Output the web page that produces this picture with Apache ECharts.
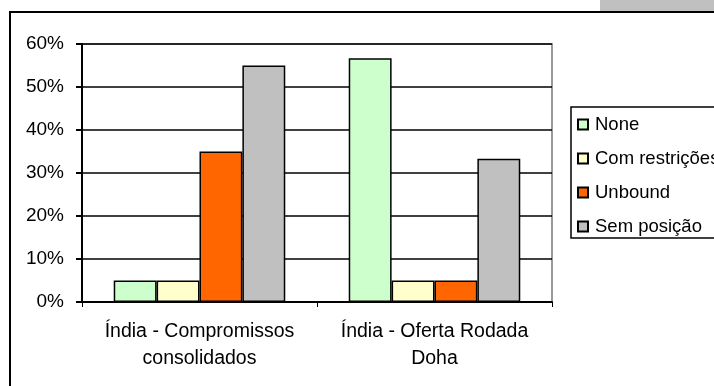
<!DOCTYPE html>
<html>
<head>
<meta charset="utf-8">
<script src="https://cdn.jsdelivr.net/npm/echarts@6/dist/echarts.min.js"></script>
<style>
  html, body { margin: 0; padding: 0; background: #fff; }
  #chart { width: 714px; height: 386px; }
</style>
</head>
<body>
<div id="chart"></div>
<script>
// categories and shares (fractions)
var categories = ['Índia - Compromissos\nconsolidados', 'Índia - Oferta Rodada\nDoha'];
var seriesNames = ['None', 'Com restrições', 'Unbound', 'Sem posição'];
var noneValues = [0.05, 0.567];
var comRestricaoValues = [0.05, 0.05];
var unboundValues = [0.35, 0.05];
var semPosicaoValues = [0.55, 0.333];
var colors = ['#CCFFCC', '#FFFFCC', '#FF6600', '#C0C0C0'];

var font = 'Liberation Sans, Arial, sans-serif';
var seriesValues = [noneValues, comRestricaoValues, unboundValues, semPosicaoValues];

var chart = echarts.init(document.getElementById('chart'));
chart.setOption({
  animation: false,
  color: colors,
  grid: {
    left: 82, right: 162, top: 44, bottom: 84,
    show: true, borderColor: '#999', borderWidth: 2
  },
  legend: {
    orient: 'vertical',
    left: 577, top: 115,
    padding: 0,
    itemWidth: 10, itemHeight: 10,
    itemGap: 15,
    icon: 'rect',
    textStyle: { fontFamily: font, fontSize: 18.5, color: '#000', lineHeight: 18, padding: [0, 0, 0, 2] }
  },
  graphic: [
    // outer frame, right/bottom fall off the picture
    { type: 'rect', shape: { x: 10, y: 12, width: 720, height: 390 },
      style: { fill: null, stroke: '#000', lineWidth: 2 }, z: -1 },
    { type: 'rect', shape: { x: 600, y: 0, width: 114, height: 11 },
      style: { fill: '#C0C0C0' } },
    // legend box
    { type: 'rect', shape: { x: 571, y: 107, width: 160, height: 131 },
      style: { fill: null, stroke: '#000', lineWidth: 1.5 } }
  ],
  xAxis: {
    type: 'category',
    data: categories,
    axisLine: { lineStyle: { color: '#000', width: 2 } },
    axisTick: { show: true, interval: 0, length: 5, lineStyle: { color: '#000' } },
    axisLabel: {
      interval: 0, hideOverlap: false,
      fontFamily: font, fontSize: 19.5, color: '#000', lineHeight: 27, margin: 16
    }
  },
  yAxis: {
    type: 'value',
    min: 0, max: 0.6, interval: 0.1,
    axisLine: { show: true, lineStyle: { color: '#000', width: 2 } },
    axisTick: { show: true, length: 6, lineStyle: { color: '#000', width: 2 } },
    splitLine: { lineStyle: { color: '#000', width: 1.5 } },
    axisLabel: {
      fontFamily: font, fontSize: 19, color: '#000', margin: 18,
      formatter: function (v) { return Math.round(v * 100) + '%'; }
    }
  },
  series: seriesNames.map(function (name, i) {
    return {
      name: name,
      type: 'bar',
      data: seriesValues[i],
      barGap: '0%',
      barCategoryGap: '27%',
      itemStyle: { color: colors[i], borderColor: '#000', borderWidth: 1.5 }
    };
  })
});
</script>
</body>
</html>
